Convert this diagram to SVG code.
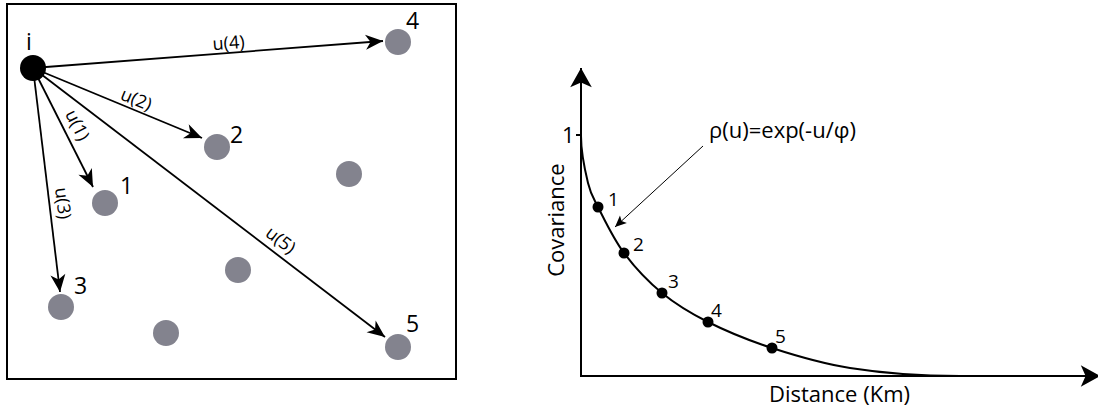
<svg xmlns="http://www.w3.org/2000/svg" width="1098" height="411" viewBox="0 0 1098 411">
<defs>
<style>
text{font-family:"Open Sans","Noto Sans","Liberation Sans",sans-serif;fill:#000}
.lbl{font-size:23px}
.u{font-size:18px}
.ax{font-size:22px}
.pt{font-size:19px}
.site{fill:#83838e}
.edge{stroke:#000;stroke-width:1.8;fill:none}
.axis{stroke:#000;stroke-width:2;fill:none}
</style>
<marker id="arr" markerUnits="userSpaceOnUse" markerWidth="20" markerHeight="20" viewBox="-15 -7 16 14" refX="0" refY="0" orient="auto">
<path d="M0,0 L-14,-6 L-10,0 L-14,6 Z" fill="#000"/>
</marker>
<marker id="axarr" markerUnits="userSpaceOnUse" markerWidth="24" markerHeight="24" viewBox="-17 -10 18 20" refX="0" refY="0" orient="auto">
<path d="M0,0 L-16,-9 L-12,0 L-16,9 Z" fill="#000"/>
</marker>
<marker id="thin" markerUnits="userSpaceOnUse" markerWidth="14" markerHeight="14" viewBox="-10 -5 11 10" refX="0" refY="0" orient="auto">
<path d="M0,0 L-9,-4 L-7,0 L-9,4 Z" fill="#000"/>
</marker>
</defs>
<rect x="7" y="4" width="449" height="375" fill="none" stroke="#000" stroke-width="2"/>
<g id="connectors">
<line class="edge" x1="33" y1="68" x2="383" y2="41" marker-end="url(#arr)"/>
<line class="edge" x1="33" y1="68" x2="202" y2="138" marker-end="url(#arr)"/>
<line class="edge" x1="33" y1="68" x2="93" y2="187" marker-end="url(#arr)"/>
<line class="edge" x1="33" y1="68" x2="60" y2="292" marker-end="url(#arr)"/>
<line class="edge" x1="33" y1="68" x2="385" y2="337" marker-end="url(#arr)"/>
<text class="u" text-anchor="middle" transform="translate(229,49) rotate(-4.4)">u(4)</text>
<text class="u" text-anchor="middle" transform="translate(134,105) rotate(22.5)">u(2)</text>
<text class="u" text-anchor="middle" transform="translate(72,128) rotate(63.2)">u(1)</text>
<text class="u" text-anchor="middle" transform="translate(57,204) rotate(83)">u(3)</text>
<text class="u" text-anchor="middle" transform="translate(277,245) rotate(37.4)">u(5)</text>
</g>
<g id="node-i"><circle cx="33" cy="68" r="13" fill="#000"/><text class="lbl" x="26" y="50">i</text></g>
<g id="node-1"><circle class="site" cx="105" cy="203" r="13"/><text class="lbl" x="120" y="194">1</text></g>
<g id="node-2"><circle class="site" cx="217" cy="147" r="13"/><text class="lbl" x="230" y="143">2</text></g>
<g id="node-3"><circle class="site" cx="61" cy="307" r="13"/><text class="lbl" x="74" y="294">3</text></g>
<g id="node-4"><circle class="site" cx="398" cy="42" r="13"/><text class="lbl" x="406" y="29">4</text></g>
<g id="node-5"><circle class="site" cx="398" cy="347" r="13"/><text class="lbl" x="406" y="332">5</text></g>
<g id="node-a"><circle class="site" cx="349" cy="174" r="13"/></g>
<g id="node-b"><circle class="site" cx="238" cy="270" r="13"/></g>
<g id="node-c"><circle class="site" cx="166" cy="333" r="13"/></g>
<g id="chart">
<line class="axis" x1="581" y1="377" x2="581" y2="68" marker-end="url(#axarr)"/>
<line class="axis" x1="580" y1="376" x2="1100" y2="376" marker-end="url(#axarr)"/>
<line class="axis" x1="576" y1="135" x2="581" y2="135"/>
<text class="ax" x="562" y="143">1</text>
<path class="axis" d="M581,136 C581,150 585.2,171.5 588,183 C590.8,194.5 592,195.3 598,207 C604,218.7 613.3,238.7 624,253 C634.7,267.3 648,281.5 662,293 C676,304.5 689.7,312.8 708,322 C726.3,331.2 748.3,340.3 772,348 C795.7,355.7 820.3,363.3 850,368 C879.7,372.7 920,376 960,376"/>
<circle cx="598" cy="207" r="5.5"/><text class="pt" x="608" y="206">1</text>
<circle cx="624" cy="253" r="5.5"/><text class="pt" x="633" y="251">2</text>
<circle cx="662" cy="293" r="5.5"/><text class="pt" x="668" y="288">3</text>
<circle cx="708" cy="322" r="5.5"/><text class="pt" x="711" y="317">4</text>
<circle cx="772" cy="348" r="5.5"/><text class="pt" x="775" y="343">5</text>
<line x1="703" y1="146" x2="615" y2="227" stroke="#000" stroke-width="1" marker-end="url(#thin)"/>
<text class="ax" x="709" y="138">ρ(u)=exp(-u/φ)</text>
<text class="ax" text-anchor="middle" transform="translate(564,220) rotate(-90)">Covariance</text>
<text class="ax" x="769" y="402">Distance (Km)</text>
</g>
</svg>
